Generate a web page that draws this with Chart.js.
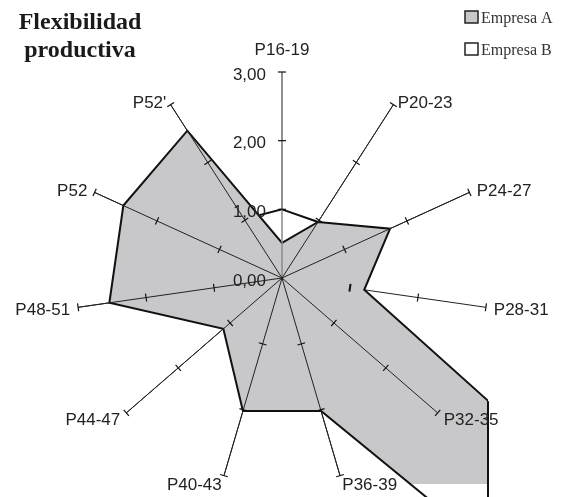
<!DOCTYPE html>
<html><head><meta charset="utf-8">
<script src="https://cdn.jsdelivr.net/npm/chart.js@4"></script>
<style>
html,body{margin:0;padding:0;background:#fff;}
#wrap{position:relative;width:563px;height:497px;overflow:hidden;}
canvas{position:absolute;left:0;top:0;}
</style></head><body>
<div id="wrap"><canvas id="c" width="563" height="497"></canvas></div>
<script>
const categories = ["P16-19","P20-23","P24-27","P28-31","P32-35","P36-39","P40-43","P44-47","P48-51","P52","P52'"];
const empresaA = [0.51, 0.97, 1.73, 1.21, 40, 2.02, 2.02, 1.13, 2.54, 2.54, 2.55];
const empresaB = [1.00, 0.97, 1.00, 1.00, 1.00, 1.00, 1.00, 1.00, 1.00, 1.00, 1.02];
const tickValues = [0, 1, 2, 3];
const tickLabels = ["0,00", "1,00", "2,00", "3,00"];
const titleLines = ["Flexibilidad", "productiva"];
const seriesNames = ["Empresa A", "Empresa B"];
const seriesFill = ["#c8c8ca", "#ffffff"];

const overlay = {
  id: 'overlay',
  afterDatasetsDraw(chart) {
    const ctx = chart.ctx;
    const s = chart.scales.r;
    const n = categories.length;
    const maxV = tickValues[tickValues.length - 1];
    ctx.save();
    // border along the clipped edge of series A
    const pts = chart.getDatasetMeta(0).data;
    ctx.save();
    ctx.beginPath();
    pts.forEach((p, k) => k ? ctx.lineTo(p.x, p.y) : ctx.moveTo(p.x, p.y));
    ctx.closePath();
    ctx.clip();
    ctx.beginPath();
    ctx.strokeStyle = '#111';
    ctx.lineWidth = 2;
    ctx.moveTo(chart.chartArea.right, 0);
    ctx.lineTo(chart.chartArea.right, chart.height);
    ctx.stroke();
    ctx.restore();
    // axis lines on top of fills (P28-31 stays beneath)
    for (let i = 0; i < n; i++) {
      if (i === 3) continue;
      const e = s.getPointPositionForValue(i, maxV);
      ctx.beginPath();
      ctx.strokeStyle = i === 0 ? '#8a8a8a' : '#222';
      ctx.lineWidth = i === 0 ? 1.5 : 1;
      ctx.moveTo(s.xCenter, s.yCenter);
      ctx.lineTo(e.x, e.y);
      ctx.stroke();
    }
    // tick marks
    for (let i = 0; i < n; i++) {
      const ang = s.getIndexAngle(i) - Math.PI / 2;
      const px = -Math.sin(ang), py = Math.cos(ang);
      for (const v of tickValues) {
        if (v === 0) continue;
        const p = s.getPointPositionForValue(i, v);
        ctx.beginPath();
        ctx.strokeStyle = '#111';
        ctx.lineWidth = (i === 3 && v === 1) ? 2 : 1.2;
        ctx.moveTo(p.x - 4 * px, p.y - 4 * py);
        ctx.lineTo(p.x + 4 * px, p.y + 4 * py);
        ctx.stroke();
      }
    }
    // tick labels
    ctx.fillStyle = '#222';
    ctx.font = '17px "Liberation Sans", Arial, sans-serif';
    ctx.textAlign = 'right';
    ctx.textBaseline = 'middle';
    tickValues.forEach((v, k) => {
      const d = s.getDistanceFromCenterForValue(v);
      ctx.fillText(tickLabels[k], s.xCenter - 16, s.yCenter - d + 3);
    });
    // point labels
    for (let i = 0; i < n; i++) {
      const ang = s.getIndexAngle(i);
      const sn = Math.sin(ang), cs = Math.cos(ang);
      if (i === 0) {
        const p = s.getPointPositionForValue(i, maxV);
        ctx.textAlign = 'center';
        ctx.textBaseline = 'alphabetic';
        ctx.fillText(categories[i], p.x, p.y - 17);
        continue;
      }
      const p = s.getPointPosition(i, s.drawingArea + 8);
      ctx.textAlign = sn > 0 ? 'left' : 'right';
      ctx.textBaseline = 'middle';
      ctx.fillText(categories[i], p.x, p.y + 2 + (cs > 0.5 ? 3 : 0));
    }
    // title
    ctx.font = 'bold 24px "Liberation Serif", "Times New Roman", serif';
    ctx.textAlign = 'center';
    ctx.textBaseline = 'alphabetic';
    ctx.fillStyle = '#1a1a1a';
    ctx.fillText(titleLines[0], 80, 29);
    ctx.fillText(titleLines[1], 80, 57);
    // legend
    ctx.font = '16px "Liberation Serif", "Times New Roman", serif';
    ctx.textAlign = 'left';
    seriesNames.forEach((name, k) => {
      const y = 11 + k * 32;
      ctx.fillStyle = seriesFill[k];
      ctx.fillRect(465, y, 13, 12);
      ctx.strokeStyle = '#222';
      ctx.lineWidth = 1.5;
      ctx.strokeRect(465, y, 13, 12);
      ctx.fillStyle = '#333';
      ctx.fillText(name, 481, y + 12);
    });
    ctx.restore();
  }
};

const clipOpt = {left: false, top: false, right: 0, bottom: false};
new Chart(document.getElementById('c'), {
  type: 'radar',
  data: {
    labels: categories,
    datasets: [
      {label: seriesNames[0], data: empresaA, backgroundColor: seriesFill[0], borderColor: '#111', borderWidth: 2, pointRadius: 0, fill: 'origin', clip: clipOpt},
      {label: seriesNames[1], data: empresaB, backgroundColor: seriesFill[1], borderColor: '#111', borderWidth: 2, pointRadius: 0, fill: 'origin', clip: clipOpt}
    ]
  },
  options: {
    responsive: false,
    animation: false,
    devicePixelRatio: 1,
    layout: {padding: {left: 76, right: 75, top: 72, bottom: 13}},
    plugins: {legend: {display: false}, tooltip: {enabled: false}, title: {display: false}},
    elements: {line: {tension: 0, borderJoinStyle: 'miter'}},
    scales: {
      r: {
        min: 0, max: 3,
        ticks: {display: false, stepSize: 1},
        grid: {display: false},
        pointLabels: {display: false},
        angleLines: {display: true, color: (c) => c.index === 0 ? '#8a8a8a' : '#222', lineWidth: (c) => c.index === 0 ? 1.5 : 1}
      }
    }
  },
  plugins: [overlay]
});
</script>
</body></html>
